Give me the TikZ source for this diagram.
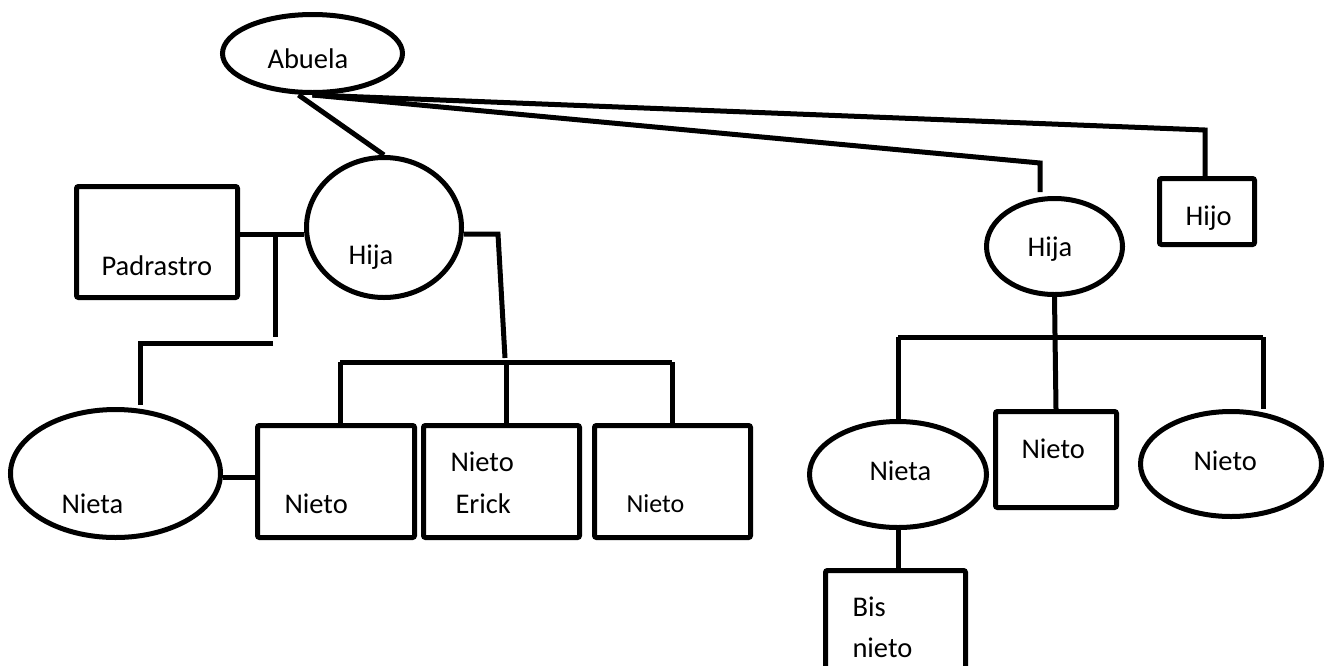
\documentclass[tikz,border=0pt]{standalone}
\usepackage{fontspec}
\setmainfont{Carlito}
\usetikzlibrary{shapes.geometric}
\begin{document}
\begin{tikzpicture}[x=1pt,y=-1pt,line width=5pt,line join=miter,
  oval/.style={draw,ellipse,inner sep=0pt},
  box/.style={draw,rectangle,inner sep=0pt,rounded corners=2pt},
  lbl/.style={font=\fontsize{28.5}{34}\selectfont,inner sep=0pt,anchor=base west},
  lblsm/.style={font=\fontsize{26}{31}\selectfont,inner sep=0pt,anchor=base west}]
\clip (0,0) rectangle (1325,665);
% shapes
\node[oval,minimum width=180pt,minimum height=78pt] (abuela) at (312.5,53.5) {};
\node[oval,minimum width=155pt,minimum height=140pt] (hijaL) at (384,227.5) {};
\node[box,minimum width=161pt,minimum height=111pt] (padrastro) at (157,242) {};
\node[oval,minimum width=210pt,minimum height=128pt] (nietaL) at (115.5,473.5) {};
\node[box,minimum width=157pt,minimum height=112pt] (nieto1) at (336,481.5) {};
\node[box,minimum width=156pt,minimum height=112pt] (nieto2) at (501.5,481.5) {};
\node[box,minimum width=156pt,minimum height=112pt] (nieto3) at (672.5,481.5) {};
\node[box,minimum width=95pt,minimum height=66pt] (hijo) at (1207,211.5) {};
\node[oval,minimum width=136pt,minimum height=96pt] (hijaR) at (1054.5,246.5) {};
\node[oval,minimum width=177pt,minimum height=106pt] (nietaR) at (898,474.5) {};
\node[box,minimum width=121pt,minimum height=96pt] (nietoM) at (1056,459.5) {};
\node[oval,minimum width=181pt,minimum height=105pt] (nietoR) at (1231,464) {};
\node[box,minimum width=140pt,minimum height=129pt] (bis) at (895.5,635) {};
% texts
\node[lbl] (tAbuela) at (265,68) {Abuela};
\node[lbl] (tPadrastro) at (99,275) {Padrastro};
\node[lbl] (tHijaL) at (346,264) {Hija};
\node[lbl] (tNietaL) at (59,513) {Nieta};
\node[lbl] (tNieto1) at (282,513) {Nieto};
\node[lbl] (tNieto2) at (448,471) {Nieto};
\node[lbl] (tErick) at (453,513) {Erick};
\node[lblsm] (tNieto3) at (624,512) {Nieto};
\node[lbl] (tHijo) at (1183,225) {Hijo};
\node[lbl] (tHijaR) at (1025,256) {Hija};
\node[lbl] (tNietaR) at (867,480) {Nieta};
\node[lbl] (tNietoM) at (1019,458) {Nieto};
\node[lbl] (tNietoR) at (1191,470) {Nieto};
\node[lbl] (tBis) at (850,616) {Bis};
\node[lbl] (tBisn) at (850,657) {nieto};
% junction coordinates
\coordinate (c1) at (1205,130);
\coordinate (c2) at (1040,163);
\coordinate (e2) at (1040,192);
\coordinate (j1) at (275,234);
\coordinate (j2) at (275,337);
\coordinate (j3) at (273,343);
\coordinate (j4) at (140,343);
\coordinate (e4) at (140,405);
\coordinate (k1) at (498,234);
\coordinate (k2) at (505,358);
\coordinate (b1) at (340,362);
\coordinate (b2) at (506,362);
\coordinate (b3) at (672,362);
\coordinate (m) at (240,477);
\coordinate (rb1) at (898,337);
\coordinate (rb3) at (1263,337);
% connectors
\draw ([xshift=-14pt]abuela.south) -- (hijaL.north);
\draw (abuela.south) -- (c1) -- (c1 |- hijo.north);
\draw (abuela.south) -- (c2) -- (e2);
\draw (padrastro.east |- j1) -- (hijaL.west |- j1);
\draw (j1) -- (j2);
\draw (j3) -- (j4) -- (e4);
\draw (hijaL.east |- j1) -- (k1) -- (k2);
\draw (b1) -- (b3);
\draw (b1) -- (b1 |- nieto1.north);
\draw (b2) -- (b2 |- nieto2.north);
\draw (b3) -- (b3 |- nieto3.north);
\draw (nietaL.east |- m) -- (nieto1.west |- m);
\draw (hijaR.south) -- (nietoM.north);
\draw (rb1) -- (rb3);
\draw (rb1) -- (rb1 |- nietaR.north);
\draw (rb3) -- (rb3 |- nietoR.north);
\draw (nietaR.south) -- (nietaR.south |- bis.north);
\end{tikzpicture}
\end{document}
